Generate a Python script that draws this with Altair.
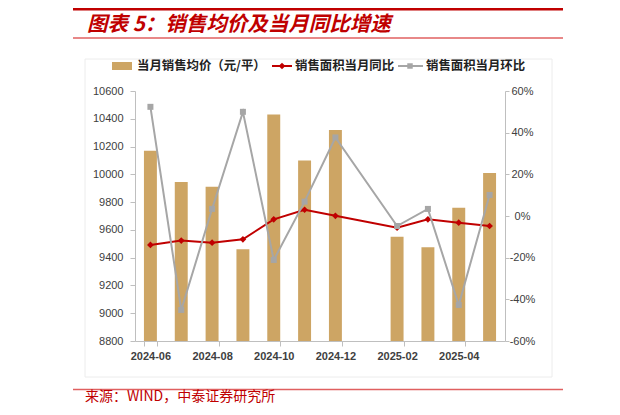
import altair as alt
import pandas as pd

months = ["2024-06", "2024-07", "2024-08", "2024-09", "2024-10", "2024-11",
          "2024-12", "2025-01", "2025-02", "2025-03", "2025-04", "2025-05"]
price = [10170, 9945, 9910, 9460, 10430, 10100, 10320, None, 9550, 9475, 9760, 10010]
yoy = [-13.9, -11.8, -12.8, -11.2, -1.6, 3.0, 0.1, None, -5.6, -1.6, -3.2, -4.8]
mom = [52.4, -45.1, 3.4, 50.0, -21.1, 6.9, 37.7, None, -4.8, 3.4, -42.7, 10.1]
x_labels = ["2024-06", "2024-08", "2024-10", "2024-12", "2025-02", "2025-04"]
left_ticks = [8800, 9000, 9200, 9400, 9600, 9800, 10000, 10200, 10400, 10600]
right_ticks = [-60, -40, -20, 0, 20, 40, 60]

title_text = "图表 5：销售均价及当月同比增速"
legend_names = ["当月销售均价（元/平）", "销售面积当月同比", "销售面积当月环比"]
source_text = "来源：WIND，中泰证券研究所"

BAR = "#cda564"
RED = "#c00000"
GRAY = "#a6a6a6"
CJK = "Noto Sans CJK SC"
LAT = "Liberation Sans"

bar_df = pd.DataFrame({"month": months, "price": price}).dropna()
yoy_df = pd.DataFrame({"month": months, "value": yoy}).dropna()
mom_df = pd.DataFrame({"month": months, "value": mom}).dropna()

x_axis = alt.Axis(values=x_labels, tickBand="extent", labelAngle=0, title=None,
                  labelFont=LAT, labelFontSize=11, labelFontWeight="bold",
                  labelColor="#404040", domainColor="#bfbfbf", tickColor="#bfbfbf",
                  tickSize=5, labelPadding=4, grid=False)
x_scale = alt.Scale(domain=months, paddingInner=0.58, paddingOuter=0.29)
X = alt.X("month:N", scale=x_scale, axis=x_axis)

bars = alt.Chart(bar_df).mark_bar(color=BAR).encode(
    x=X,
    y=alt.Y("price:Q", scale=alt.Scale(domain=[8800, 10600], nice=False, zero=False),
            axis=alt.Axis(values=left_ticks, format="d", title=None, grid=False,
                          labelFont=LAT, labelFontSize=11, labelColor="#404040",
                          domainColor="#bfbfbf", tickColor="#bfbfbf", tickSize=5,
                          labelPadding=7)),
    y2=alt.datum(8800),
)

right_axis = alt.Axis(orient="right", values=right_ticks, labelExpr="datum.value + '%'",
                      title=None, grid=False, labelFont=LAT, labelFontSize=11,
                      labelColor="#404040", domainColor="#bfbfbf", tickColor="#bfbfbf",
                      tickSize=4, labelPadding=13, labelAlign="center")
Y2 = alt.Y("value:Q", scale=alt.Scale(domain=[-60, 60], nice=False), axis=right_axis)

red_line = alt.Chart(yoy_df).mark_line(color=RED, strokeWidth=2).encode(x=X, y=Y2)
red_pts = alt.Chart(yoy_df).mark_point(shape="diamond", filled=True, color=RED,
                                       size=45, opacity=1).encode(x=X, y=Y2)
gray_line = alt.Chart(mom_df).mark_line(color=GRAY, strokeWidth=2).encode(x=X, y=Y2)
gray_pts = alt.Chart(mom_df).mark_point(shape="square", filled=True, color=GRAY,
                                        size=36, opacity=1).encode(x=X, y=Y2)

lines = alt.layer(red_line, red_pts, gray_line, gray_pts)

one = alt.Data(values=[{"a": 1}])

def txt(s, x, y, size, color, weight="normal", style="normal", font=CJK):
    return alt.Chart(one).mark_text(text=s, align="left", baseline="middle",
                                    font=font, fontSize=size, color=color,
                                    fontWeight=weight, fontStyle=style).encode(
        x=alt.value(x), y=alt.value(y))

def hline(x1, x2, y, color, w):
    return alt.Chart(one).mark_rule(color=color, strokeWidth=w).encode(
        x=alt.value(x1), x2=alt.value(x2), y=alt.value(y))

box = alt.Chart(one).mark_rect(fill=None, stroke="#ececec", strokeWidth=1).encode(
    x=alt.value(-50), x2=alt.value(417), y=alt.value(-32), y2=alt.value(286))

top_line = hline(-62, 428, -82, RED, 3)
sub_line = hline(-62, 428, -53, "#e06060", 1.5)
src_line = hline(-62, 428, 298.5, "#e06060", 1.5)

title = txt(title_text, -48, -66, 20.5, RED, weight="bold", style="italic")
source = txt(source_text, -50, 306, 14, RED)

leg_swatch = alt.Chart(one).mark_rect(color=BAR).encode(
    x=alt.value(-23), x2=alt.value(-3), y=alt.value(-29), y2=alt.value(-21))
leg_t1 = txt(legend_names[0], 2, -25, 12.4, "#222222", weight="bold")
leg_red = hline(137, 157, -25, RED, 2)
leg_red_pt = alt.Chart(one).mark_point(shape="diamond", filled=True, color=RED,
                                       size=45, opacity=1).encode(
    x=alt.value(147), y=alt.value(-25))
leg_t2 = txt(legend_names[1], 160, -25, 12.4, "#222222", weight="bold")
leg_gray = hline(263, 288, -25, GRAY, 2)
leg_gray_pt = alt.Chart(one).mark_point(shape="square", filled=True, color=GRAY,
                                        size=30, opacity=1).encode(
    x=alt.value(275), y=alt.value(-25))
leg_t3 = txt(legend_names[2], 291, -25, 12.4, "#222222", weight="bold")

chart = alt.layer(
    box, bars, lines,
    top_line, sub_line, src_line, title, source,
    leg_swatch, leg_t1, leg_red, leg_red_pt, leg_t2, leg_gray, leg_gray_pt, leg_t3,
).resolve_scale(y="independent").properties(
    width=370, height=250,
    padding={"left": 127, "top": 83, "right": 103, "bottom": 66},
    autosize=alt.AutoSizeParams(type="none"),
).configure_view(stroke=None)

chart.save("out.html", embed_options={"renderer": "svg", "actions": False})
